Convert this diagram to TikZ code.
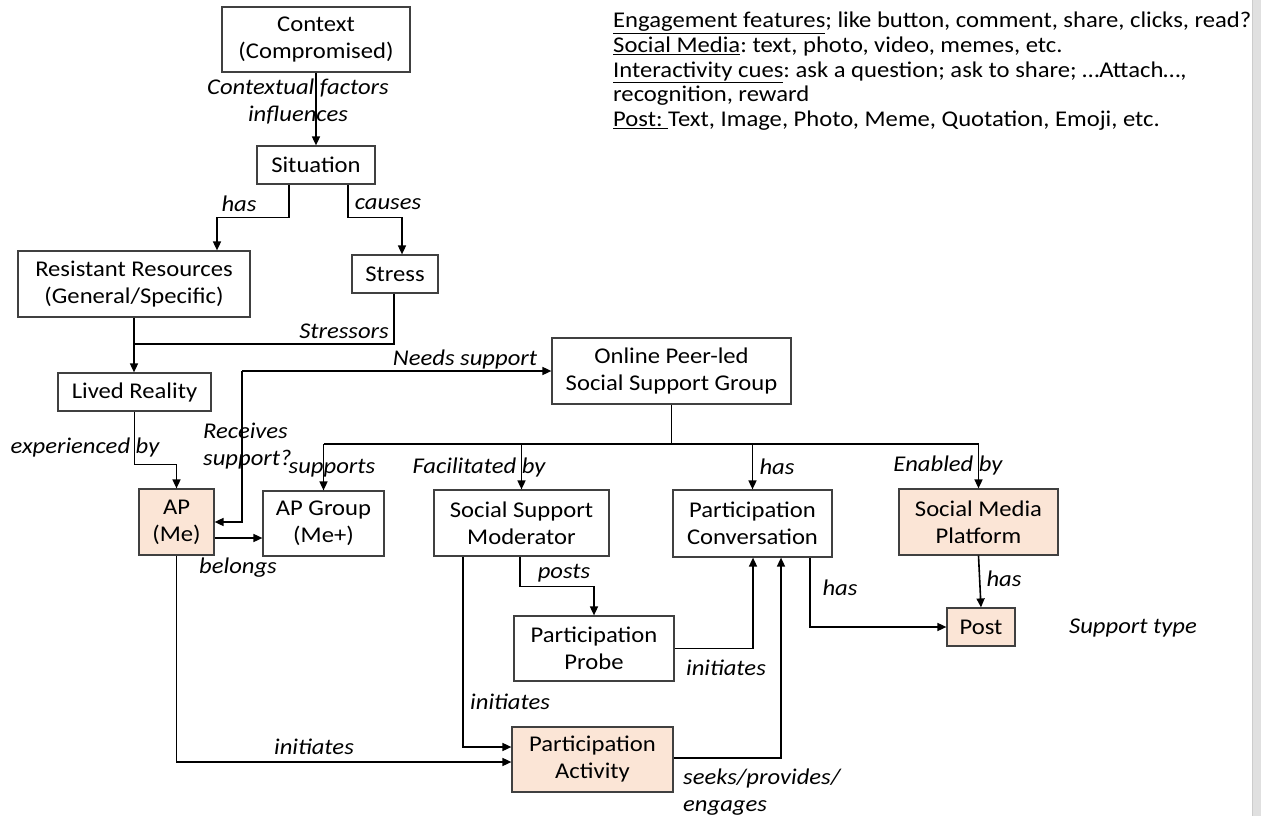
\documentclass[tikz,border=0pt]{standalone}
\usepackage{fontspec}
\setmainfont{Carlito}[FakeStretch=1.095]
\usetikzlibrary{arrows.meta,calc}
\definecolor{peach}{HTML}{FBE5D6}
\definecolor{boxline}{HTML}{404040}
\frenchspacing
\begin{document}
\begin{tikzpicture}[x=1pt,y=-1pt,
  every node/.style={font=\fontsize{22.5}{27}\selectfont},
  box/.style={draw=boxline,line width=1.2pt,align=center,inner sep=0pt},
  hot/.style={box,fill=peach},
  conn/.style={line width=1.6pt,black},
  arr/.style={conn,-{Triangle[length=9pt,width=8pt]}},
  lbl/.style={font=\fontsize{22.5}{27}\selectfont\itshape,inner sep=0pt,align=center}]
\useasboundingbox (0,0) rectangle (1261,816);
\fill[white] (0,0) rectangle (1261,816);
\fill[black!12] (1252,0) rectangle (1261,816);
\draw[black!20,line width=0.8pt] (1252.4,0) -- (1252.4,816);

% boxes
\node[box,minimum width=188pt,minimum height=65pt] (ctx) at (316,39.5) {Context\\(Compromised)};
\node[box,minimum width=118pt,minimum height=38pt] (sit) at (316,165) {Situation};
\node[box,minimum width=232pt,minimum height=66pt] (res) at (134,284) {Resistant Resources\\(General/Specific)};
\node[box,minimum width=86pt,minimum height=38pt] (stress) at (395,274) {Stress};
\node[box,minimum width=153pt,minimum height=38pt] (lived) at (134.5,392) {Lived Reality};
\node[box,minimum width=239pt,minimum height=66pt] (online) at (671.5,371) {Online Peer-led\\Social Support Group};
\node[hot,minimum width=75pt,minimum height=66pt] (ap) at (176.5,522) {AP\\(Me)};
\node[box,minimum width=121pt,minimum height=65pt] (apg) at (323.5,523.5) {AP Group\\(Me+)};
\node[box,minimum width=175pt,minimum height=66pt] (mod) at (521.5,523) {Social Support\\Moderator};
\node[box,minimum width=159pt,minimum height=67pt] (conv) at (752.5,523.5) {Participation\\Conversation};
\node[hot,minimum width=159pt,minimum height=66pt] (plat) at (978.5,522) {Social Media\\Platform};
\node[box,minimum width=160pt,minimum height=65pt] (probe) at (594,648.5) {Participation\\Probe};
\node[hot,minimum width=161pt,minimum height=65pt] (act) at (592.5,759.5) {Participation\\Activity};
\node[hot,minimum width=68pt,minimum height=38pt] (post) at (981,627) {Post};

% connectors
\draw[arr] (ctx.south) -- (sit.north);
\draw[arr] ([xshift=-27pt]sit.south) -- ++(0,33) -| ([xshift=83pt]res.north);
\draw[arr] ([xshift=32pt]sit.south) -- ++(0,33) -| ([xshift=7pt]stress.north);
\coordinate (j1) at (134,344);
\draw[conn] ([xshift=-1pt]stress.south) |- (j1);
\draw[arr] (res.south) -- (res.south |- lived.north);
\draw[arr] (lived.south) -- ++(0,53) -| (ap.north);
\coordinate (ns) at (242,371);
\draw[arr] (ns) -- (online.west);
\draw[arr] (ns) |- (ap.east);
\draw[arr] ([yshift=-16pt]ap.east) -- ([yshift=-16pt]ap.east -| apg.west);
\coordinate (bus) at (671.5,444);
\draw[conn] (online.south) -- (bus);
\draw[conn] (apg.north |- bus) -- (plat.north |- bus);
\draw[arr] (apg.north |- bus) -- (apg.north);
\draw[arr] (mod.north |- bus) -- (mod.north);
\draw[arr] (conv.north |- bus) -- (conv.north);
\draw[arr] (plat.north |- bus) -- (plat.north);
\draw[arr] (ap.south) |- ([yshift=-2.5pt]act.west);
\draw[arr] ([xshift=-58.5pt]mod.south) |- ([yshift=12.5pt]act.west);
\draw[arr] ([xshift=-1.5pt]mod.south) -- ++(0,30) -| (probe.north);
\draw[arr] (probe.east) -| ([xshift=0.5pt]conv.south);
\draw[arr] ([yshift=1.5pt]act.east) -| ([xshift=28.5pt]conv.south);
\draw[arr] ([xshift=57.5pt]conv.south) |- (post.west);
\draw[arr] (plat.south) -- (post.north);

% labels
\node[lbl] (l1) at (298,101.5) {Contextual factors\\influences};
\node[lbl] (l2) at (239,204) {has};
\node[lbl] (l3) at (388,204) {causes};
\node[lbl] (l4) at (344,331) {Stressors};
\node[lbl] (l5) at (465,359) {Needs support};
\node[lbl,anchor=west,align=left] (l6) at (203,446) {Receives\\support?};
\node[lbl] (l7) at (85,447) {experienced by};
\node[lbl] (l8) at (332,468) {supports};
\node[lbl] (l9) at (479,467) {Facilitated by};
\node[lbl] (l10) at (777,467) {has};
\node[lbl] (l11) at (948,465) {Enabled by};
\node[lbl] (l12) at (238,568) {belongs};
\node[lbl] (l13) at (314,747) {initiates};
\node[lbl,anchor=west] (l14) at (470,702) {initiates};
\node[lbl] (l15) at (564,573) {posts};
\node[lbl] (l16) at (726,668) {initiates};
\node[lbl,anchor=west,align=left] (l17) at (683,792) {seeks/provides/\\engages};
\node[lbl] (l18) at (840,588) {has};
\node[lbl] (l19) at (1004,579) {has};
\node[lbl] (l20) at (1133,628) {Support type};

% notes
\node[anchor=north west,align=left,inner sep=0pt,font=\fontsize{22.5}{24.6}\selectfont] (notes) at (613,12) {\underline{Engagement features}; like button, comment, share, clicks, read?\\
\underline{Social Media}: text, photo, video, memes, etc.\\
\underline{Interactivity cues}: ask a question; ask to share; …Attach…,\\
recognition, reward\\
\underline{Post:\ }Text, Image, Photo, Meme, Quotation, Emoji, etc.};
\end{tikzpicture}
\end{document}
